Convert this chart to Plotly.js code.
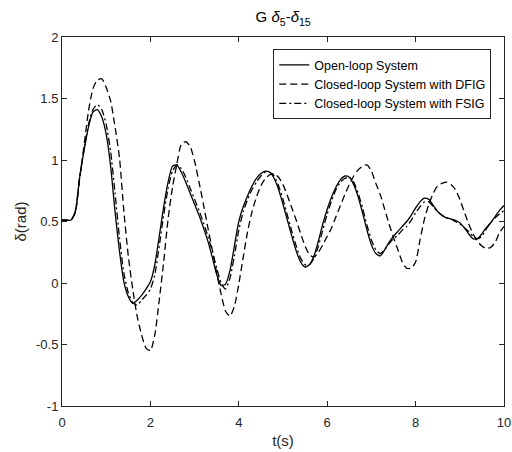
<!DOCTYPE html>
<html>
<head>
<meta charset="utf-8">
<script src="https://cdn.plot.ly/plotly-3.0.1.min.js"></script>
<style>html,body{margin:0;padding:0;background:#fff;}#chart{width:512px;height:452px;}</style>
</head>
<body>
<div id="chart"></div>
<script>
var time = [0.0,0.1,0.2,0.3,0.4,0.5,0.6,0.7,0.8,0.9,1.0,1.1,1.2,1.3,1.4,1.5,1.6,1.7,1.8,1.9,2.0,2.1,2.2,2.3,2.4,2.5,2.6,2.7,2.8,2.9,3.0,3.1,3.2,3.3,3.4,3.5,3.6,3.7,3.8,3.9,4.0,4.1,4.2,4.3,4.4,4.5,4.6,4.7,4.8,4.9,5.0,5.1,5.2,5.3,5.4,5.5,5.6,5.7,5.8,5.9,6.0,6.1,6.2,6.3,6.4,6.5,6.6,6.7,6.8,6.9,7.0,7.1,7.2,7.3,7.4,7.5,7.6,7.7,7.8,7.9,8.0,8.1,8.2,8.3,8.4,8.5,8.6,8.7,8.8,8.9,9.0,9.1,9.2,9.3,9.4,9.5,9.6,9.7,9.8,9.9,10.0];

var openLoop = [0.51,0.51,0.51,0.58,0.86,1.08,1.27,1.39,1.41,1.35,1.21,0.95,0.58,0.26,0.01,-0.11,-0.165,-0.14,-0.10,-0.05,0.01,0.15,0.38,0.62,0.82,0.95,0.96,0.90,0.82,0.73,0.64,0.55,0.45,0.34,0.21,0.07,-0.02,-0.01,0.10,0.30,0.50,0.62,0.71,0.79,0.85,0.89,0.91,0.90,0.85,0.76,0.64,0.51,0.38,0.26,0.17,0.13,0.15,0.22,0.34,0.48,0.60,0.70,0.78,0.84,0.87,0.86,0.80,0.70,0.57,0.43,0.31,0.24,0.22,0.27,0.33,0.38,0.42,0.46,0.50,0.55,0.61,0.66,0.69,0.68,0.63,0.58,0.55,0.53,0.52,0.51,0.49,0.45,0.40,0.36,0.36,0.40,0.45,0.49,0.54,0.59,0.63];

var closedDFIG = [0.51,0.51,0.51,0.57,0.85,1.12,1.40,1.58,1.65,1.66,1.59,1.48,1.27,1.02,0.58,0.22,-0.05,-0.27,-0.42,-0.53,-0.55,-0.42,-0.14,0.17,0.52,0.78,0.97,1.13,1.15,1.11,0.99,0.82,0.64,0.45,0.27,0.08,-0.09,-0.23,-0.27,-0.19,-0.01,0.21,0.42,0.58,0.70,0.79,0.85,0.88,0.89,0.86,0.80,0.71,0.61,0.51,0.40,0.30,0.23,0.21,0.25,0.31,0.38,0.45,0.54,0.63,0.72,0.80,0.87,0.92,0.95,0.96,0.91,0.81,0.72,0.60,0.48,0.37,0.27,0.17,0.12,0.12,0.17,0.35,0.52,0.64,0.73,0.79,0.81,0.82,0.80,0.76,0.68,0.58,0.48,0.40,0.34,0.30,0.28,0.29,0.33,0.41,0.46];

var closedFSIG = [0.51,0.51,0.51,0.58,0.86,1.09,1.29,1.41,1.45,1.41,1.29,1.07,0.73,0.37,0.08,-0.08,-0.16,-0.18,-0.14,-0.10,-0.05,0.07,0.30,0.55,0.77,0.91,0.96,0.93,0.86,0.77,0.68,0.59,0.49,0.38,0.26,0.12,0.00,-0.05,0.04,0.22,0.43,0.58,0.68,0.76,0.82,0.87,0.90,0.90,0.87,0.79,0.68,0.55,0.42,0.30,0.20,0.15,0.15,0.20,0.30,0.43,0.56,0.67,0.76,0.82,0.85,0.86,0.82,0.73,0.61,0.47,0.35,0.27,0.24,0.27,0.32,0.36,0.39,0.43,0.46,0.51,0.57,0.62,0.66,0.66,0.62,0.58,0.55,0.53,0.52,0.50,0.48,0.45,0.42,0.38,0.36,0.38,0.44,0.49,0.53,0.56,0.59];

var seriesNames = ['Open-loop System','Closed-loop System with DFIG','Closed-loop System with FSIG'];
var xTickVals = [0,2,4,6,8,10];
var xTickText = ['0','2','4','6','8','10'];
var yTickVals = [-1,-0.5,0,0.5,1,1.5,2];
var yTickText = ['-1','-0.5','0','0.5','1','1.5','2'];

var font = 'Liberation Sans, Arial, Helvetica, sans-serif';
var traces = [
  {x: time, y: openLoop, name: seriesNames[0], mode: 'lines', line: {color: '#000', width: 1.3, shape: 'spline', smoothing: 0.6}},
  {x: time, y: closedDFIG, name: seriesNames[1], mode: 'lines', line: {color: '#000', width: 1.3, dash: '7px,4px', shape: 'spline', smoothing: 0.6}},
  {x: time, y: closedFSIG, name: seriesNames[2], mode: 'lines', line: {color: '#000', width: 1.3, dash: '7px,3px,2px,3px', shape: 'spline', smoothing: 0.6}}
];
var axisCommon = {
  showline: true, linecolor: '#262626', linewidth: 1, mirror: 'ticks',
  ticks: 'inside', ticklen: 5, tickcolor: '#262626', tickwidth: 1,
  showgrid: false, zeroline: false, tickmode: 'array',
  tickfont: {family: font, size: 13, color: '#262626'}
};
var layout = {
  width: 512, height: 452,
  margin: {l: 62, r: 8, t: 37, b: 46},
  paper_bgcolor: '#fff', plot_bgcolor: '#fff',
  title: {text: 'G <i>δ</i><sub>5</sub>-<i>δ</i><sub>15</sub>', font: {family: font, size: 15, color: '#000'}, x: 0.553, xanchor: 'center', y: 0.962, yanchor: 'middle'},
  xaxis: Object.assign({}, axisCommon, {range: [0, 10], tickvals: xTickVals, ticktext: xTickText, ticklabelstandoff: 4,
    title: {text: 't(s)', font: {family: font, size: 15, color: '#262626'}, standoff: 6}}),
  yaxis: Object.assign({}, axisCommon, {range: [-1, 2], tickvals: yTickVals, ticktext: yTickText,
    title: {text: 'δ(rad)', font: {family: font, size: 15, color: '#262626'}, standoff: 5}}),
  legend: {x: 0.478, y: 0.967, xanchor: 'left', yanchor: 'top', bgcolor: '#fff', bordercolor: '#262626', borderwidth: 1,
    font: {family: font, size: 12.5, color: '#000'}, tracegroupgap: 0, itemwidth: 30},
  showlegend: true
};
Plotly.newPlot('chart', traces, layout, {displayModeBar: false, staticPlot: true});
</script>
</body>
</html>
